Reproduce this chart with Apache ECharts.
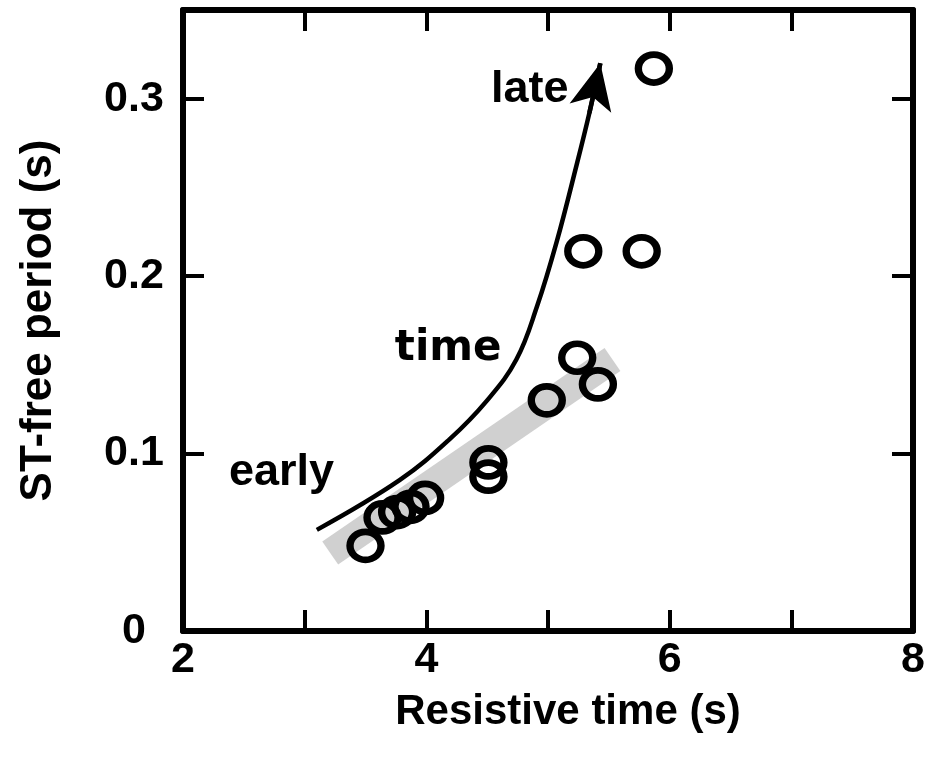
<!DOCTYPE html>
<html>
<head>
<meta charset="utf-8">
<script src="https://cdn.jsdelivr.net/npm/echarts@6/dist/echarts.min.js"></script>
<style>
  html, body { margin: 0; padding: 0; background: #ffffff; }
  #chart { width: 951px; height: 763px; }
</style>
</head>
<body>
<div id="chart"></div>
<script>
  // circles: [resistive time (s), ST-free period (s)]
  var points = [
    [5.87, 0.317],
    [5.29, 0.214],
    [5.77, 0.214],
    [5.24, 0.154],
    [5.41, 0.139],
    [4.99, 0.130],
    [4.51, 0.095],
    [4.51, 0.087],
    [3.99, 0.075],
    [3.87, 0.070],
    [3.76, 0.067],
    [3.64, 0.064],
    [3.50, 0.048]
  ];

  // grey shaded band under the circles
  var band = [[3.21, 0.044], [5.53, 0.153]];

  // the "time" arrow, early -> late
  var timeCurve = [
    [3.10, 0.057],
    [3.78, 0.085],
    [4.19, 0.108],
    [4.50, 0.130],
    [4.74, 0.153],
    [4.91, 0.183],
    [5.07, 0.219],
    [5.24, 0.264],
    [5.34, 0.292],
    [5.43, 0.320]
  ];

  var notes = [
    [4.85, 0.305, 'late'],
    [2.81, 0.089, 'early']
  ];
  var boldNotes = [
    [4.18, 0.159, 'time']
  ];

  var xTicks = [2, 4, 6, 8];

  var font = 'Liberation Sans';
  var frame = { show: true, onZero: false, lineStyle: { color: '#000', width: 6 } };
  var ticks = { show: true, inside: true, length: 21, lineStyle: { color: '#000', width: 4 } };

  var myChart = echarts.init(document.getElementById('chart'));

  myChart.setOption({
    backgroundColor: '#ffffff',
    animation: false,
    grid: { left: 183, right: 38, top: 10, bottom: 132 },
    xAxis: [
      {
        type: 'value',
        min: 2, max: 8, interval: 1,
        axisLine: frame,
        axisTick: ticks,
        splitLine: { show: false },
        axisLabel: {
          margin: 8,
          color: '#000',
          fontFamily: font,
          fontWeight: 'bold',
          fontSize: 43,
          formatter: function (v) {
            return xTicks.indexOf(v) >= 0 ? String(v) : '';
          }
        },
        name: 'Resistive time (s)',
        nameLocation: 'middle',
        nameGap: 60,
        nameTextStyle: {
          color: '#000', fontFamily: font, fontWeight: 'bold', fontSize: 42,
          padding: [0, 0, 0, 40]
        }
      },
      {
        type: 'value',
        position: 'top',
        min: 2, max: 8, interval: 1,
        axisLine: frame,
        axisTick: ticks,
        axisLabel: { show: false },
        splitLine: { show: false }
      }
    ],
    yAxis: [
      {
        type: 'value',
        min: 0, max: 0.35, interval: 0.1,
        axisLine: frame,
        axisTick: ticks,
        splitLine: { show: false },
        axisLabel: {
          margin: 49,
          align: 'center',
          color: '#000',
          fontFamily: font,
          fontWeight: 'bold',
          fontSize: 43,
          showMaxLabel: false
        },
        name: 'ST-free period (s)',
        nameLocation: 'middle',
        nameGap: 122,
        nameTextStyle: { color: '#000', fontFamily: font, fontWeight: 'bold', fontSize: 44 }
      },
      {
        type: 'value',
        position: 'right',
        min: 0, max: 0.35, interval: 0.1,
        axisLine: frame,
        axisTick: ticks,
        axisLabel: { show: false },
        splitLine: { show: false }
      }
    ],
    series: [
      {
        // shaded band
        type: 'line',
        data: band,
        symbol: 'none',
        z: 1,
        lineStyle: { color: '#d0d0d0', width: 28, cap: 'butt' }
      },
      {
        type: 'line',
        data: timeCurve,
        symbol: 'none',
        smooth: 0.4,
        z: 3,
        lineStyle: { color: '#000', width: 4.5 }
      },
      {
        // arrow head on the last piece of the curve
        type: 'lines',
        coordinateSystem: 'cartesian2d',
        symbol: ['none', 'arrow'],
        symbolSize: [0, [32, 46]],
        z: 3,
        lineStyle: { color: '#000', width: 4.5, opacity: 1 },
        itemStyle: { color: '#000' },
        data: [{ coords: timeCurve.slice(-2) }]
      },
      {
        type: 'scatter',
        data: points,
        symbol: 'circle',
        symbolSize: [31, 28],
        z: 4,
        itemStyle: { color: 'rgba(0,0,0,0)', borderColor: '#000', borderWidth: 7, opacity: 1 }
      },
      {
        type: 'scatter',
        data: notes,
        symbolSize: 0,
        z: 5,
        itemStyle: { opacity: 1 },
        label: {
          show: true,
          position: 'inside',
          formatter: function (p) { return p.value[2]; },
          color: '#000',
          fontFamily: font,
          fontWeight: 'bold',
          fontSize: 45
        }
      },
      {
        type: 'scatter',
        data: boldNotes,
        symbolSize: 0,
        z: 5,
        itemStyle: { opacity: 1 },
        label: {
          show: true,
          position: 'inside',
          formatter: function (p) { return p.value[2]; },
          color: '#000',
          fontFamily: 'DejaVu Sans',
          fontWeight: 'bold',
          fontSize: 42
        }
      }
    ]
  });
</script>
</body>
</html>
